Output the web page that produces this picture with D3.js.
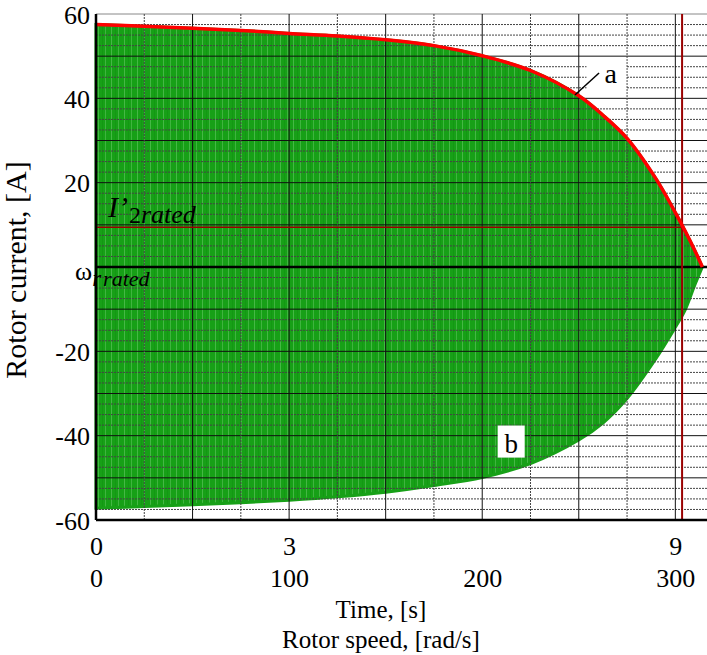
<!DOCTYPE html>
<html>
<head>
<meta charset="utf-8">
<script src="https://cdn.jsdelivr.net/npm/d3@7"></script>
<style>
  body { margin: 0; background: #fff; }
  svg text { font-family: "Liberation Serif", "Times New Roman", serif; fill: #000; }
</style>
</head>
<body>
<div id="chart"></div>
<script>
// envelope of the rotor current oscillation, read against rotor speed (rad/s)
var speedPts = [0, 25, 50, 75, 100, 125, 150, 175, 200, 225, 250, 262.5, 275, 290, 300, 305, 310, 314];
var upperEnv = [57.5, 57.1, 56.6, 56.1, 55.4, 54.8, 53.9, 52.5, 50.1, 46.6, 40.6, 36.0, 30.5, 20.9, 12.9, 8.6, 4.0, 0];
var lowerEnv = [-57.2, -56.8, -56.4, -55.9, -55.3, -54.5, -53.4, -51.8, -49.9, -46.6, -41.0, -37.0, -31.2, -21.7, -14.3, -10.3, -4.4, 0];

var ratedCurrent = 9.4;   // I'2 rated, A
var ratedSpeed = 303.5;   // omega r rated, rad/s

var timeTicks = [0, 3, 9];
var speedTicks = [0, 100, 200, 300];
var currentTicks = [60, 40, 20, -20, -40, -60];

var serif = "'Liberation Serif', 'Times New Roman', serif";

var svgWidth = 707;
var svgHeight = 655;
var margin = { top: 14, right: 0, bottom: 135, left: 96 };
var width = svgWidth - margin.left - margin.right;
var height = svgHeight - margin.top - margin.bottom;

var svg = d3.select("#chart")
  .append("svg")
  .attr("width", svgWidth)
  .attr("height", svgHeight);

// streaky green like the dense oscillation trace
var defs = svg.append("defs");
var pat = defs.append("pattern")
  .attr("id", "osc")
  .attr("width", 13)
  .attr("height", 10)
  .attr("patternUnits", "userSpaceOnUse");
pat.append("rect").attr("width", 13).attr("height", 10).attr("fill", "#17a017");
pat.append("rect").attr("x", 2).attr("width", 1).attr("height", 10).attr("fill", "#6ccc6c").attr("opacity", 0.55);
pat.append("rect").attr("x", 6).attr("width", 1).attr("height", 10).attr("fill", "#10900f").attr("opacity", 0.5);
pat.append("rect").attr("x", 9).attr("width", 1).attr("height", 10).attr("fill", "#7ad27a").attr("opacity", 0.4);

var chartGroup = svg.append("g")
  .attr("transform", `translate(${margin.left}, ${margin.top})`);

// 3 s of run-up correspond to 100 rad/s on this chart
var xSpeed = d3.scaleLinear().domain([0, 316.4]).range([0, width]);
var xTime = d3.scaleLinear().domain([0, 316.4 * 3 / 100]).range([0, width]);
var y = d3.scaleLinear().domain([-60, 60]).range([height, 0]);

// green oscillation band
var envData = speedPts.map((s, i) => ({ s: s, hi: upperEnv[i], lo: lowerEnv[i] }));

var area = d3.area()
  .x(d => xSpeed(d.s))
  .y0(d => y(d.lo))
  .y1(d => y(d.hi))
  .curve(d3.curveCatmullRom.alpha(0.5));

chartGroup.append("path")
  .datum(envData)
  .attr("d", area)
  .attr("fill", "url(#osc)")
  .attr("stroke", "#17a017")
  .attr("stroke-width", 3);

// grid
var hLines = d3.range(-57.5, 60.1, 2.5);
chartGroup.selectAll(".hgrid")
  .data(hLines)
  .enter()
  .append("line")
  .attr("class", "hgrid")
  .attr("x1", 0)
  .attr("x2", width)
  .attr("y1", d => y(d))
  .attr("y2", d => y(d))
  .attr("stroke", d => d === 60 ? "#888" : (d % 10 === 0 ? "#111" : "#444"))
  .attr("stroke-width", 1)
  .attr("stroke-dasharray", d => d % 10 === 0 ? null : "2,1");

var vLines = d3.range(25, 301, 25);
chartGroup.selectAll(".vgrid")
  .data(vLines)
  .enter()
  .append("line")
  .attr("class", "vgrid")
  .attr("x1", d => xSpeed(d))
  .attr("x2", d => xSpeed(d))
  .attr("y1", 0)
  .attr("y2", height)
  .attr("stroke", d => d % 50 === 0 ? "#111" : "#444")
  .attr("stroke-width", 1)
  .attr("stroke-dasharray", d => d % 50 === 0 ? null : "2,1");

// zero line
chartGroup.append("line")
  .attr("x1", 0).attr("x2", width)
  .attr("y1", y(0)).attr("y2", y(0))
  .attr("stroke", "#000")
  .attr("stroke-width", 2.5);

// rated lines
chartGroup.append("line")
  .attr("x1", 0).attr("x2", xSpeed(ratedSpeed))
  .attr("y1", y(ratedCurrent)).attr("y2", y(ratedCurrent))
  .attr("stroke", "#990000")
  .attr("stroke-width", 1.5);

chartGroup.append("line")
  .attr("x1", xSpeed(ratedSpeed)).attr("x2", xSpeed(ratedSpeed))
  .attr("y1", 0).attr("y2", height)
  .attr("stroke", "#990000")
  .attr("stroke-width", 2);

// red envelope curve "a"
var line = d3.line()
  .x(d => xSpeed(d.s))
  .y(d => y(d.hi))
  .curve(d3.curveCatmullRom.alpha(0.5));

chartGroup.append("path")
  .datum(envData)
  .attr("d", line)
  .attr("fill", "none")
  .attr("stroke", "#ff0000")
  .attr("stroke-width", 3.5);

// labels a and b
chartGroup.append("rect")
  .attr("x", xSpeed(254)).attr("y", y(49.7))
  .attr("width", xSpeed(274.5) - xSpeed(254))
  .attr("height", y(40.4) - y(49.7))
  .attr("fill", "#fff");

chartGroup.append("line")
  .attr("x1", xSpeed(248)).attr("y1", y(40.8))
  .attr("x2", xSpeed(260.5)).attr("y2", y(46))
  .attr("stroke", "#000")
  .attr("stroke-width", 1.5);

chartGroup.append("text")
  .attr("x", xSpeed(266.5)).attr("y", y(43.6))
  .attr("text-anchor", "middle")
  .style("font-family", serif)
  .style("font-size", "28px")
  .text("a");

chartGroup.append("rect")
  .attr("x", xSpeed(208)).attr("y", y(-37.6))
  .attr("width", xSpeed(222) - xSpeed(208))
  .attr("height", y(-45.2) - y(-37.6))
  .attr("fill", "#fff");

chartGroup.append("text")
  .attr("x", xSpeed(215)).attr("y", y(-44))
  .attr("text-anchor", "middle")
  .style("font-family", serif)
  .style("font-size", "27px")
  .text("b");

// I'2 rated label
var iLabel = chartGroup.append("text")
  .attr("x", xSpeed(6.2)).attr("y", y(11.9))
  .style("font-family", serif);
iLabel.append("tspan")
  .style("font-style", "italic")
  .style("font-size", "30px")
  .text("I\u2019");
iLabel.append("tspan")
  .attr("dx", 1)
  .attr("dy", 6)
  .style("font-size", "24px")
  .text("2");
iLabel.append("tspan")
  .style("font-style", "italic")
  .style("font-size", "26px")
  .text("rated");

// omega r rated label
var wLabel = chartGroup.append("text")
  .attr("x", -21).attr("y", y(-3))
  .style("font-family", serif);
wLabel.append("tspan")
  .style("font-size", "26px")
  .text("\u03c9");
wLabel.append("tspan")
  .attr("dy", 6)
  .style("font-style", "italic")
  .style("font-size", "23px")
  .text("r");
wLabel.append("tspan")
  .attr("dx", 2)
  .style("font-style", "italic")
  .style("font-size", "22px")
  .text("rated");

// axes
var plain = d => String(d);
var yAxis = d3.axisLeft(y).tickValues(currentTicks).tickFormat(plain).tickSize(0).tickPadding(6);
var timeAxis = d3.axisBottom(xTime).tickValues(timeTicks).tickFormat(plain).tickSize(0).tickPadding(17);
var speedAxis = d3.axisBottom(xSpeed).tickValues(speedTicks).tickFormat(plain).tickSize(0).tickPadding(49);

var yG = chartGroup.append("g").call(yAxis);
var tG = chartGroup.append("g").attr("transform", `translate(0, ${height})`).call(timeAxis);
var sG = chartGroup.append("g").attr("transform", `translate(0, ${height})`).call(speedAxis);

[yG, tG, sG].forEach(function(g) {
  g.select(".domain").remove();
  g.attr("font-family", serif);
  g.selectAll("text")
    .style("font-family", serif)
    .style("font-size", "26px")
    .attr("fill", "#000");
});
yG.selectAll("text").attr("dy", "0.35em");

// axis frame lines
chartGroup.append("line")
  .attr("x1", 0).attr("x2", 0)
  .attr("y1", 0).attr("y2", height)
  .attr("stroke", "#000")
  .attr("stroke-width", 2.5);

chartGroup.append("line")
  .attr("x1", 0).attr("x2", width)
  .attr("y1", height).attr("y2", height)
  .attr("stroke", "#000")
  .attr("stroke-width", 2.5);

// axis titles
chartGroup.append("text")
  .attr("transform", "rotate(-90)")
  .attr("x", -256)
  .attr("y", -70)
  .attr("text-anchor", "middle")
  .style("font-family", serif)
  .style("font-size", "30px")
  .text("Rotor current, [A]");

chartGroup.append("text")
  .attr("x", 285)
  .attr("y", height + 98)
  .attr("text-anchor", "middle")
  .style("font-family", serif)
  .style("font-size", "25px")
  .text("Time, [s]");

chartGroup.append("text")
  .attr("x", 285)
  .attr("y", height + 128)
  .attr("text-anchor", "middle")
  .style("font-family", serif)
  .style("font-size", "25px")
  .text("Rotor speed, [rad/s]");
</script>
</body>
</html>
